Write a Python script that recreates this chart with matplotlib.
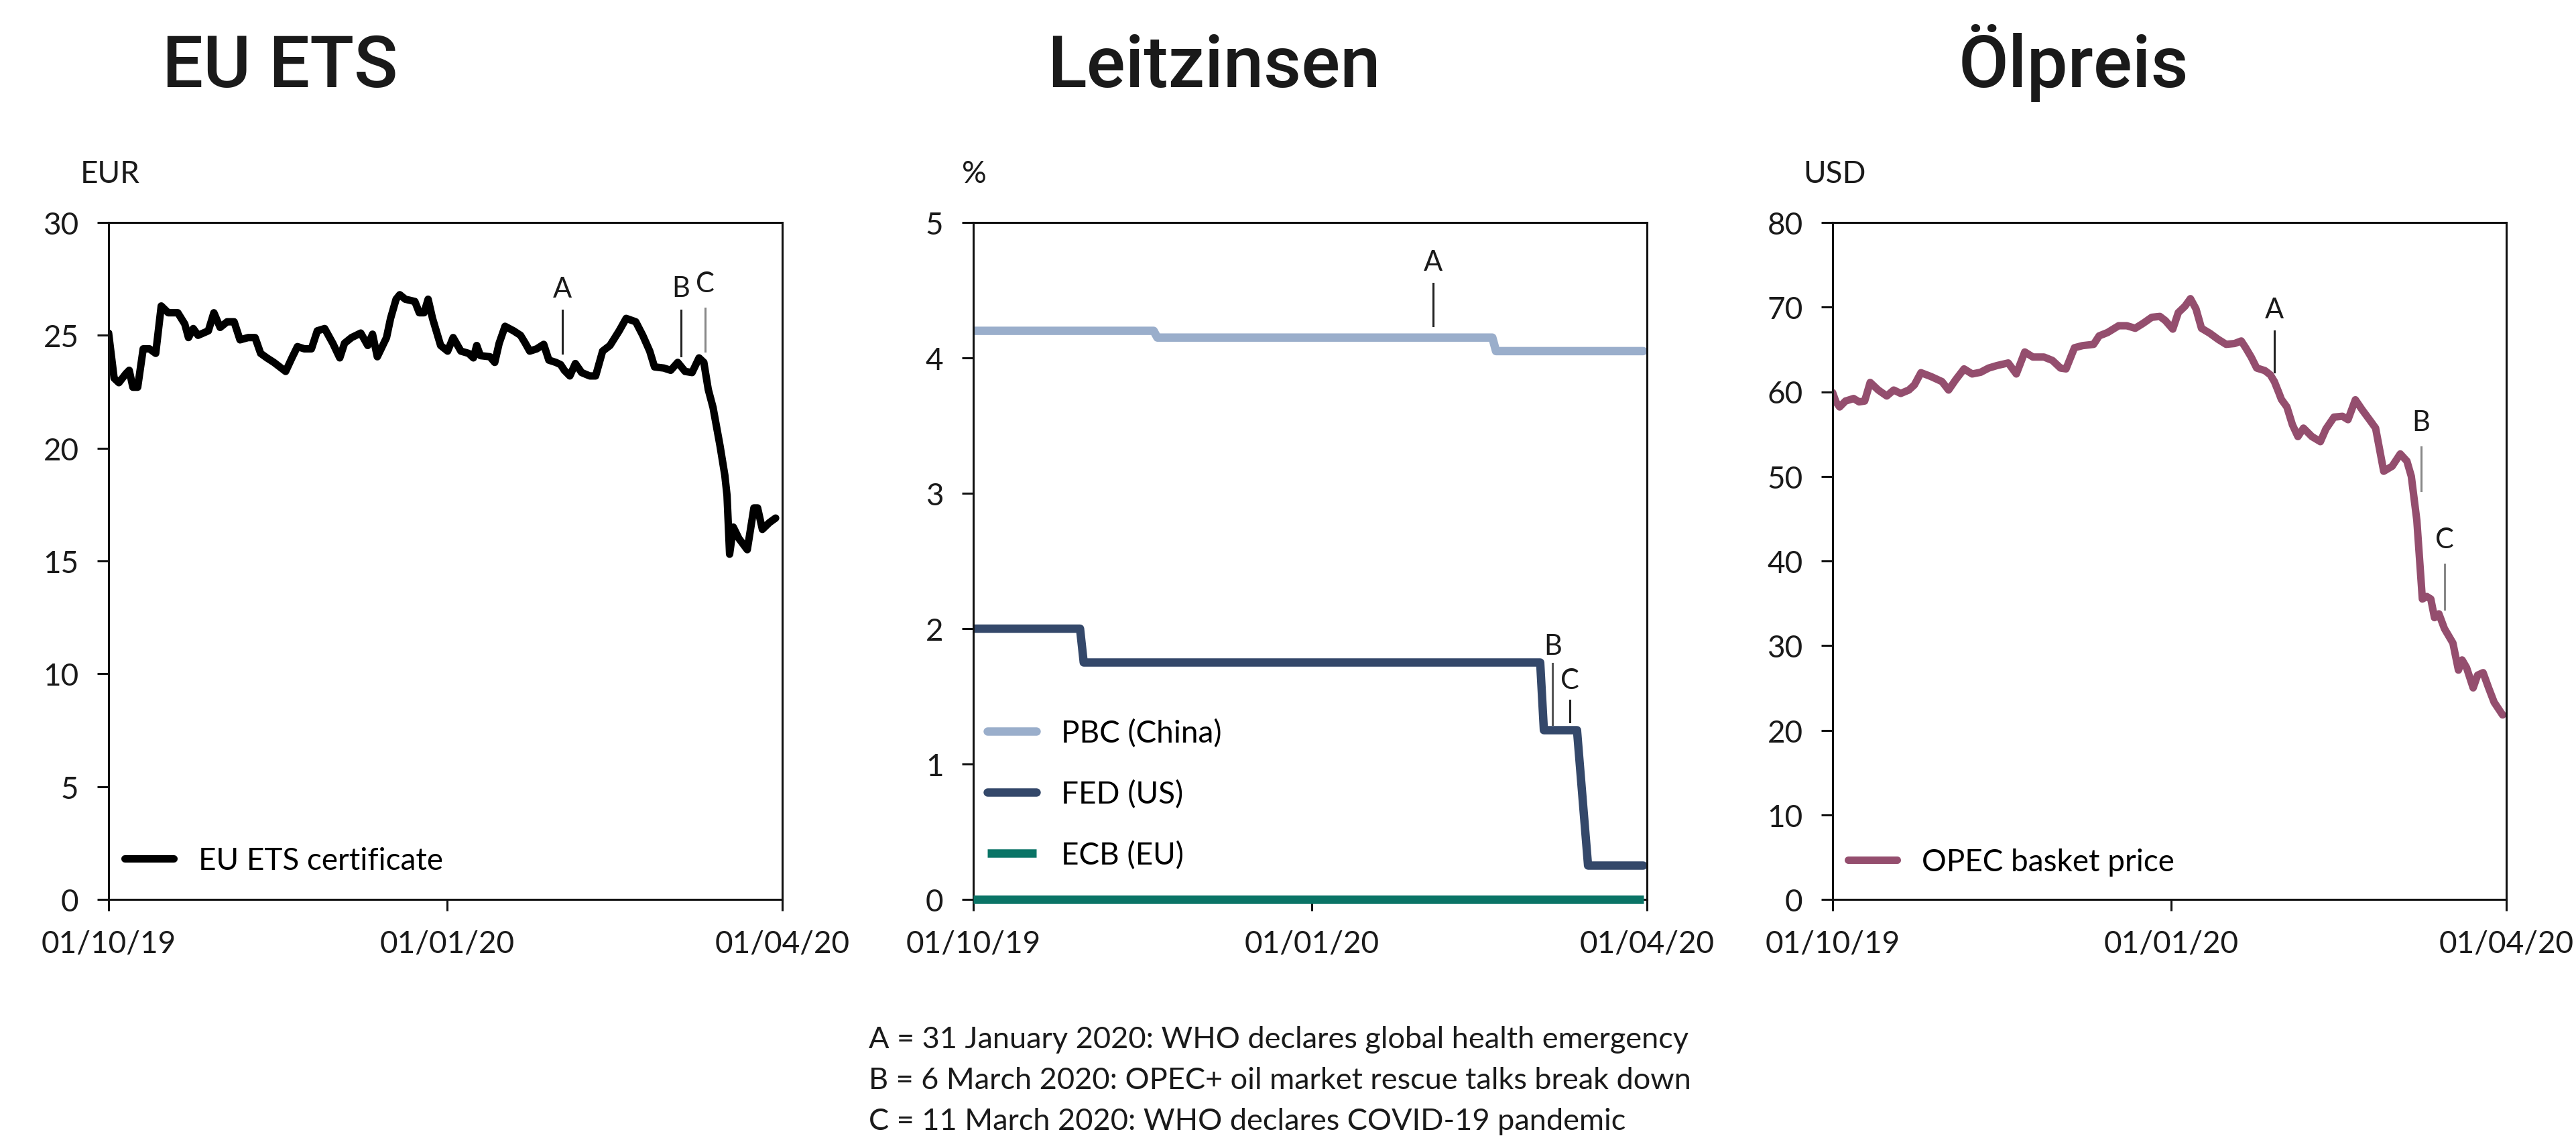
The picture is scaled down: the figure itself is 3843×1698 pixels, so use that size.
import numpy as np
import matplotlib
matplotlib.use("Agg")
import matplotlib.pyplot as plt
import matplotlib.dates as mdates

plt.rcParams['font.family'] = ['Lato', 'DejaVu Sans']

# ---- data (days counted from 01/10/19) ----
ets_days = [0, 1.5, 2.8, 4.7, 5.6, 6.6, 7.9, 9.4, 11.1, 12.8, 14.3, 16.2, 18.8, 20.7, 21.7, 23.0, 24.3,
            27.1, 28.6, 30.3, 32.2, 34.1, 35.7, 37.9, 39.8, 41.3, 43.0, 44.9, 48.1, 49.8, 51.3, 53.2,
            55.1, 56.7, 58.7, 60.9, 62.8, 64.1, 66.0, 68.5, 70.4, 71.7, 73.0, 75.5, 76.6, 78.1, 79.1,
            80.6, 83.2, 84.4, 85.7, 86.8, 88.0, 90.2, 92.1, 93.6, 95.7, 97.8, 99.1, 100.0, 101.0,
            103.6, 104.9, 106.1, 107.7, 110.0, 111.9, 113.2, 114.4, 116.3, 118.2, 119.6, 121.5,
            122.8, 123.8, 125.3, 126.8, 128.5, 130.7, 132.3, 134.2, 136.2, 138.7, 140.6, 143.2,
            145.1, 147.0, 148.3, 150.8, 152.7, 154.6, 156.6, 158.5, 160.4, 161.7, 162.9, 164.2,
            166.1, 167.4, 168.0, 168.7, 169.7, 171.2, 173.5, 175.3, 176.3, 177.6, 179.5, 181.2]
ets_values = [25.1, 23.1, 22.9, 23.3, 23.45, 22.7, 22.7, 24.4, 24.4, 24.2, 26.3, 26.0, 26.0, 25.5, 24.9,
              25.3, 25.0, 25.2, 26.0, 25.35, 25.6, 25.6, 24.8, 24.9, 24.9, 24.2, 24.0, 23.8, 23.4, 24.0,
              24.5, 24.4, 24.4, 25.2, 25.3, 24.65, 24.0, 24.65, 24.9, 25.1, 24.55, 25.05, 24.05, 24.9,
              25.75, 26.6, 26.8, 26.6, 26.5, 26.0, 26.0, 26.6, 25.75, 24.55, 24.3, 24.9, 24.3, 24.2,
              24.0, 24.55, 24.1, 24.05, 23.8, 24.65, 25.4, 25.2, 25.0, 24.65, 24.3, 24.4, 24.6, 23.9,
              23.8, 23.7, 23.45, 23.2, 23.75, 23.35, 23.2, 23.2, 24.3, 24.55, 25.2, 25.75, 25.6, 25.0,
              24.3, 23.6, 23.55, 23.45, 23.8, 23.4, 23.35, 24.0, 23.8, 22.6, 21.8, 20.1, 18.8, 17.9,
              15.3, 16.5, 16.0, 15.5, 17.35, 17.35, 16.4, 16.7, 16.9]

pbc_dates = ['2019-10-01', '2019-11-19', '2019-11-20', '2020-02-19', '2020-02-20', '2020-03-31']
pbc_rates = [4.20, 4.20, 4.15, 4.15, 4.05, 4.05]
fed_dates = ['2019-10-01', '2019-10-30', '2019-10-31', '2020-03-03', '2020-03-04',
             '2020-03-13', '2020-03-16', '2020-03-31']
fed_rates = [2.00, 2.00, 1.75, 1.75, 1.25, 1.25, 0.25, 0.25]
ecb_dates = ['2019-10-01', '2020-03-31']
ecb_rates = [0.0, 0.0]

opec_days = [0, 0.9, 1.9, 3.5, 5.7, 7.2, 8.7, 10.2, 12.4, 14.7, 16.6, 18.5, 20.7, 22.2, 24.0, 26.7,
             29.7, 31.5, 33.4, 35.7, 37.9, 40.2, 42.4, 44.7, 47.7, 49.9, 52.2, 54.4, 57.4, 59.7,
             61.9, 63.4, 65.7, 67.9, 70.9, 72.4, 74.7, 77.7, 79.9, 82.2, 84.4, 86.7, 88.9, 90.4,
             92.4, 93.9, 95.7, 97.2, 98.7, 100.2, 102.5, 104.7, 106.9, 109.2, 111.0, 112.2, 113.7,
             115.2, 117.4, 118.9, 120.0, 121.2, 121.9, 123.4, 124.9, 126.4, 127.9, 130.2, 132.5,
             134.0, 136.2, 138.5, 140.0, 142.0, 143.8, 146.0, 147.5, 149.7, 152.0, 154.2, 156.0,
             157.2, 158.7, 160.2, 161.4, 162.5, 163.5, 164.7, 166.2, 168.5, 170.0, 171.0, 172.2,
             174.0, 175.2, 176.7, 178.2, 179.7, 182.0]
opec_values = [59.9, 58.8, 58.2, 58.9, 59.2, 58.8, 58.9, 61.1, 60.2, 59.5, 60.2, 59.8, 60.2, 60.8,
               62.25, 61.8, 61.2, 60.2, 61.4, 62.7, 62.1, 62.3, 62.8, 63.1, 63.4, 62.1, 64.7, 64.1,
               64.1, 63.7, 62.8, 62.7, 65.2, 65.45, 65.6, 66.6, 67.0, 67.8, 67.8, 67.5, 68.1, 68.8,
               68.9, 68.4, 67.4, 69.35, 70.1, 71.0, 69.8, 67.5, 66.9, 66.2, 65.6, 65.7, 66.0, 65.2,
               64.1, 62.8, 62.5, 62.0, 61.2, 59.9, 59.1, 58.2, 56.1, 54.7, 55.7, 54.7, 54.1, 55.6,
               57.0, 57.1, 56.7, 59.05, 57.9, 56.6, 55.7, 50.6, 51.2, 52.65, 51.8, 50.0, 44.8, 35.5,
               35.8, 35.5, 33.3, 33.75, 32.0, 30.3, 27.1, 28.3, 27.4, 25.0, 26.5, 26.8, 25.0, 23.3,
               21.8]

x_ticks = ['2019-10-01', '2020-01-01', '2020-04-01']
titles = ['EU ETS', 'Leitzinsen', 'Ölpreis']
units = ['EUR', '%', 'USD']
notes = ['A = 31 January 2020: WHO declares global health emergency',
         'B = 6 March 2020: OPEC+ oil market rescue talks break down',
         'C = 11 March 2020: WHO declares COVID-19 pandemic']

# event markers: letter, day, line bottom, line top, label y, colour
ets_marks = [('A', 123.2, 24.2, 26.1, 27.05, '#222222'),
             ('B', 155.5, 24.1, 26.1, 27.1, '#222222'),
             ('C', 162.0, 24.3, 26.2, 27.3, '#888888')]
rate_marks = [('A', 124.9, 4.24, 4.55, 4.71, '#222222'),
              ('B', 157.4, 1.29, 1.745, 1.87, '#555555'),
              ('C', 162.1, 1.31, 1.47, 1.62, '#222222')]
opec_marks = [('A', 120.0, 62.3, 67.2, 69.7, '#222222'),
              ('B', 159.8, 48.3, 53.5, 56.4, '#888888'),
              ('C', 166.2, 34.3, 39.6, 42.5, '#888888')]

start = np.datetime64('2019-10-01T00:00')


def to_dates(days):
    mins = np.round(np.asarray(days, dtype=float) * 1440).astype(int)
    return start + mins.astype('timedelta64[m]')


W, H = 3843, 1699
fig = plt.figure(figsize=(W / 100, H / 100), dpi=100)

lefts = [162, 1452, 2734]
axes = []
for lp in lefts:
    ax = fig.add_axes([lp / W, 1 - 1343 / H, 1005 / W, 1010 / H])
    axes.append(ax)

TXT = '#1a1a1a'
LW = 8

for ax in axes:
    for s in ax.spines.values():
        s.set_linewidth(2.2)
        s.set_color('#111111')
    ax.tick_params(direction='out', length=12, width=2.2, labelsize=33, pad=20,
                   colors='#111111', labelcolor=TXT)
    ax.set_xlim(np.datetime64('2019-10-01'), np.datetime64('2020-04-01'))
    ax.set_xticks([np.datetime64(d) for d in x_ticks])
    ax.xaxis.set_major_formatter(mdates.DateFormatter('%d/%m/%y'))

# EU ETS
ax = axes[0]
ax.plot(to_dates(ets_days), ets_values, color='black', lw=LW, solid_capstyle='round',
        solid_joinstyle='round', label='EU ETS certificate')
ax.set_ylim(0, 30)
ax.set_yticks(range(0, 31, 5))
ax.legend(loc='center left', bbox_to_anchor=(0.024, 0.057), frameon=False, fontsize=33,
          handlelength=1.6, handletextpad=0.8, borderpad=0, borderaxespad=0)

# Leitzinsen
ax = axes[1]
ax.plot(np.array(pbc_dates, dtype='datetime64[D]'), pbc_rates, color='#9aaecb', lw=LW + 1,
        solid_capstyle='round', label='PBC (China)')
ax.plot(np.array(fed_dates, dtype='datetime64[D]'), fed_rates, color='#34486a', lw=LW + 1,
        solid_capstyle='round', label='FED (US)')
ax.plot(np.array(ecb_dates, dtype='datetime64[D]'), ecb_rates, color='#0a7466', lw=LW + 1,
        solid_capstyle='butt', label='ECB (EU)', clip_on=False, zorder=5)
ax.set_ylim(0, 5)
ax.set_yticks(range(0, 6))
ax.legend(loc='center left', bbox_to_anchor=(0.021, 0.156), frameon=False, fontsize=33,
          handlelength=1.6, handletextpad=0.8, borderpad=0, borderaxespad=0, labelspacing=1.05)

# Oelpreis
ax = axes[2]
ax.plot(to_dates(opec_days), opec_values, color='#944e6e', lw=LW, solid_capstyle='round',
        solid_joinstyle='round', label='OPEC basket price')
ax.set_ylim(0, 80)
ax.set_yticks(range(0, 81, 10))
ax.legend(loc='center left', bbox_to_anchor=(0.023, 0.055), frameon=False, fontsize=33,
          handlelength=1.6, handletextpad=0.8, borderpad=0, borderaxespad=0)

for ax, marks in zip(axes, [ets_marks, rate_marks, opec_marks]):
    for letter, day, y0, y1, ylab, col in marks:
        d = to_dates([day])[0]
        ax.plot([d, d], [y0, y1], color=col, lw=2.2, zorder=6)
        ax.text(d, ylab, letter, ha='center', va='center', fontsize=30, color=TXT, zorder=6)

# titles and unit labels
for title, xc in zip(titles, [418, 1811, 3093]):
    fig.text(xc / W, 1 - 130 / H, title, ha='center', va='baseline', fontsize=78,
             family=['Roboto', 'DejaVu Sans'], fontweight='medium', color=TXT)
for unit, xl in zip(units, [120, 1435, 2690]):
    fig.text(xl / W, 1 - 273 / H, unit, ha='left', va='baseline', fontsize=33, color=TXT)

for i, line in enumerate(notes):
    fig.text(1296 / W, 1 - (1564 + 61 * i) / H, line, ha='left', va='baseline', fontsize=32.5,
             color=TXT)

fig.savefig('out.png', dpi=100, facecolor='white')
